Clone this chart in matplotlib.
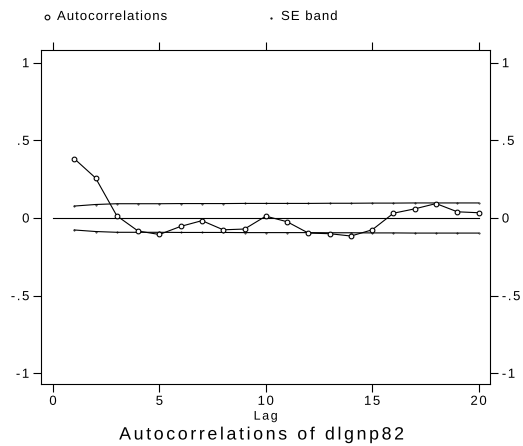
import matplotlib
matplotlib.use("Agg")
import matplotlib.pyplot as plt
import numpy as np
from matplotlib.patheffects import AbstractPathEffect
from matplotlib.textpath import text_to_path
from matplotlib.path import Path
from matplotlib.transforms import Affine2D
from matplotlib.ft2font import LoadFlags

# Autocorrelations of dlgnp82 by lag, with the Bartlett standard-error band
lags = list(range(1, 21))
acf = [0.382, 0.258, 0.014, -0.084, -0.106, -0.054, -0.017, -0.076, -0.071, 0.012,
       -0.024, -0.097, -0.101, -0.116, -0.076, 0.031, 0.059, 0.093, 0.040, 0.034]
se_band = [0.077, 0.087, 0.092, 0.092, 0.092, 0.093, 0.093, 0.093, 0.094, 0.094,
           0.094, 0.094, 0.095, 0.095, 0.096, 0.096, 0.097, 0.097, 0.097, 0.097]

xticks = [0, 5, 10, 15, 20]
yticks = [-1, -0.5, 0, 0.5, 1]
ytick_labels = ["-1", "-.5", "0", ".5", "1"]

plt.rcParams["font.family"] = ["Liberation Sans", "DejaVu Sans"]


class Tracking(AbstractPathEffect):
    """Draw a text with extra letter spacing (given as a fraction of the em)."""

    def __init__(self, track_em, anchor="center"):
        super().__init__()
        self.track_em = track_em
        self.anchor = anchor
        self.text = None

    def draw_path(self, renderer, gc, tpath, affine, rgbFace=None):
        s = self.text.get_text()
        prop = self.text.get_fontproperties()
        font = text_to_path._get_font(prop)
        font.set_size(text_to_path.FONT_SCALE, text_to_path.DPI)
        track = self.track_em * text_to_path.FONT_SCALE
        verts, codes = [], []
        x = 0.0
        for ch in s:
            v, c = text_to_path.get_text_path(prop, ch)
            if len(v):
                verts.append(np.asarray(v, float) + [x, 0.0])
                codes.append(np.asarray(c))
            g = font.load_char(ord(ch), flags=LoadFlags.NO_HINTING)
            x += g.linearHoriAdvance / 65536 + track
        if not verts:
            return
        extra = track * (len(s) - 1)
        shift = {"left": 0.0, "center": -extra / 2, "right": -extra}[self.anchor]
        path = Path(np.concatenate(verts), np.concatenate(codes))
        renderer.draw_path(gc, path, Affine2D().translate(shift, 0) + affine, rgbFace)


def track(text, track_em, anchor="center"):
    eff = Tracking(track_em, anchor)
    eff.text = text
    text.set_path_effects([eff])
    return text


fig = plt.figure(figsize=(5.23, 4.46), dpi=100)
ax = fig.add_axes([0.0784, 0.1383, 0.8591, 0.7496])

lw = 0.8
band_hi = np.array(se_band)
ax.plot([0, 20], [0, 0], color="black", lw=lw)
ax.plot(lags, band_hi, color="black", lw=lw, marker=".", markersize=0.8)
ax.plot(lags, -band_hi, color="black", lw=lw, marker=".", markersize=0.8)
ax.plot(lags, acf, color="black", lw=lw, marker="o", markersize=3.4,
        markerfacecolor="white", markeredgecolor="black", markeredgewidth=0.8)

ax.set_xlim(-0.564, 20.55)
ax.set_ylim(-1.071, 1.082)

ax.set_xticks(xticks)
ax.set_xticklabels([str(t) for t in xticks])
ax.set_yticks(yticks)
ax.set_yticklabels(ytick_labels)
ax.tick_params(axis="both", direction="out", length=5.8, width=0.8, labelsize=9.5, pad=2.5,
               top=True, right=True, labelright=True, labeltop=False)
for s in ax.spines.values():
    s.set_linewidth(0.8)

for t in ax.get_xticklabels():
    track(t, 0.12, "center")
for t in ax.yaxis.get_ticklabels(which="major"):
    track(t, 0.12, "right")
for tk in ax.yaxis.get_major_ticks():
    track(tk.label2, 0.12, "left")

ax.set_xlabel("Lag", fontsize=9, labelpad=2)
track(ax.xaxis.label, 0.128, "center")

title = fig.text(0.5, 1 - 435 / 446, "Autocorrelations of dlgnp82", ha="center",
                 va="center", fontsize=12.8)
track(title, 0.148, "center")

# legend row
fig.lines.append(plt.Line2D([47 / 523], [1 - 17 / 446], transform=fig.transFigure,
                            marker="o", markersize=3.4, markerfacecolor="white",
                            markeredgecolor="black", markeredgewidth=0.8, color="black"))
leg1 = fig.text(57 / 523, 1 - 17 / 446, "Autocorrelations", va="center", ha="left",
                fontsize=9.5)
track(leg1, 0.075, "left")
fig.lines.append(plt.Line2D([271 / 523], [1 - 18 / 446], transform=fig.transFigure,
                            marker=".", markersize=1.2, color="black"))
leg2 = fig.text(281 / 523, 1 - 17 / 446, "SE band", va="center", ha="left", fontsize=9.5)
track(leg2, 0.075, "left")

fig.savefig("out.png", dpi=100)
